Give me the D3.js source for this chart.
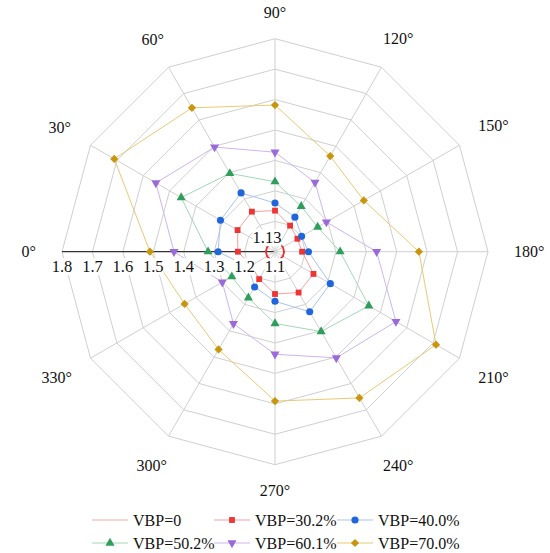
<!DOCTYPE html>
<html>
<head>
<meta charset="utf-8">
<script src="https://cdn.jsdelivr.net/npm/d3@7"></script>
<style>
  body { margin: 0; background: #fff; }
</style>
</head>
<body>
<div id="chart"></div>
<script>
// Directions (deg), 0 at left, going clockwise over the top
const angles = [0, 30, 60, 90, 120, 150, 180, 210, 240, 270, 300, 330];
const angleLabels = ["0°", "30°", "60°", "90°", "120°", "150°", "180°", "210°", "240°", "270°", "300°", "330°"];
const radialTicks = [1.8, 1.7, 1.6, 1.5, 1.4, 1.3, 1.2, 1.1];
const baseLabel = 1.13;

// Series values, one per direction
const vbp0   = [1.13, 1.13, 1.13, 1.13, 1.13, 1.13, 1.13, 1.13, 1.13, 1.13, 1.13, 1.13];
const vbp302 = [1.222, 1.242, 1.252, 1.235, 1.199, 1.185, 1.189, 1.246, 1.255, 1.239, 1.204, 1.19];
const vbp400 = [1.287, 1.307, 1.323, 1.26, 1.231, 1.201, 1.21, 1.31, 1.328, 1.263, 1.234, 1.20];
const vbp502 = [1.32, 1.456, 1.397, 1.33, 1.272, 1.262, 1.314, 1.456, 1.403, 1.336, 1.275, 1.264];
const vbp601 = [1.432, 1.552, 1.497, 1.427, 1.363, 1.295, 1.434, 1.559, 1.503, 1.437, 1.373, 1.30];
const vbp700 = [1.511, 1.71, 1.646, 1.582, 1.463, 1.437, 1.573, 1.711, 1.655, 1.591, 1.471, 1.443];

const seriesNames = ["VBP=0", "VBP=30.2%", "VBP=40.0%", "VBP=50.2%", "VBP=60.1%", "VBP=70.0%"];
const seriesValues = [vbp0, vbp302, vbp400, vbp502, vbp601, vbp700];

const markerColors = ["#f06060", "#ee3535", "#1f66dd", "#2f9e5c", "#9b6ada", "#c8960e"];
const lineColors = ["#f5a8a8", "#f5a0a0", "#a9c3f0", "#a3d8b5", "#cdb5ee", "#e9c974"];
const shapes = [null, "square", "circle", "triangle", "down", "diamond"];

const width = 550, height = 553;
const cx = 275, cy = 251.7;
const outerR = 213;
const FONT = "'Liberation Serif', 'Times New Roman', 'DejaVu Serif', serif";

const svg = d3.select("#chart").append("svg")
    .attr("width", width)
    .attr("height", height)
    .style("font-family", FONT);

const r = d3.scaleLinear().domain([1.1, 1.8]).range([0, outerR]);
const toRad = a => (a - 90) * Math.PI / 180; // d3 radial: 0 = up, clockwise

const g = svg.append("g").attr("transform", `translate(${cx},${cy})`);

// Grid rings (12-gons)
const ringLine = d3.lineRadial()
    .angle(d => toRad(d))
    .curve(d3.curveLinearClosed);

radialTicks.filter(t => t > 1.1).forEach(t => {
    g.append("path")
        .attr("d", ringLine.radius(r(t))(angles))
        .attr("fill", "none")
        .attr("stroke", "#cfcfcf")
        .attr("stroke-width", 1);
});

// Spokes
g.selectAll("line.spoke")
    .data(angles)
    .enter()
    .append("line")
    .attr("class", "spoke")
    .attr("x1", 0).attr("y1", 0)
    .attr("x2", d => d3.pointRadial(toRad(d), outerR)[0])
    .attr("y2", d => d3.pointRadial(toRad(d), outerR)[1])
    .attr("stroke", d => d === 0 ? "#333" : "#cfcfcf")
    .attr("stroke-width", d => d === 0 ? 1.2 : 1);

// Series lines
const seriesLine = d3.lineRadial()
    .angle((d, i) => toRad(angles[i]))
    .radius(d => r(d))
    .curve(d3.curveLinearClosed);

seriesValues.forEach((vals, s) => {
    g.append("path")
        .attr("d", seriesLine(vals))
        .attr("fill", "none")
        .attr("stroke", s === 0 ? "#ee2a2a" : lineColors[s])
        .attr("stroke-width", s === 0 ? 1.8 : 1);
});

// Markers
function symbolPath(shape) {
    if (shape === "square") return d3.symbol(d3.symbolSquare, 34)();
    if (shape === "circle") return d3.symbol(d3.symbolCircle, 40)();
    if (shape === "triangle") return d3.symbol(d3.symbolTriangle, 36)();
    if (shape === "down") return d3.symbol(d3.symbolTriangle, 36)();
    if (shape === "diamond") return d3.symbol(d3.symbolSquare, 34)();
    return null;
}
function symbolRot(shape) {
    if (shape === "down") return 180;
    if (shape === "diamond") return 45;
    return 0;
}

seriesValues.forEach((vals, s) => {
    if (!shapes[s]) return;
    g.selectAll(null)
        .data(vals)
        .enter()
        .append("path")
        .attr("d", symbolPath(shapes[s]))
        .attr("transform", (d, i) => {
            const p = d3.pointRadial(toRad(angles[i]), r(d));
            return `translate(${p[0]},${p[1]}) rotate(${symbolRot(shapes[s])})`;
        })
        .attr("fill", markerColors[s]);
});

// Radial tick labels (with white boxes, drawn on top)
function boxedText(x, y, txt) {
    const grp = g.append("g");
    const t = grp.append("text")
        .attr("x", x).attr("y", y)
        .attr("text-anchor", "middle")
        .attr("font-size", 16.5)
        .attr("fill", "#111")
        .text(txt);
    const bb = t.node().getBBox();
    grp.insert("rect", "text")
        .attr("x", bb.x)
        .attr("y", bb.y + 1)
        .attr("width", bb.width)
        .attr("height", bb.height - 2)
        .attr("fill", "#fff");
}

radialTicks.forEach(t => {
    boxedText(-r(t), 20.5, String(t));
});
boxedText(-8, -8.5, String(baseLabel));

// Direction labels
const lab = svg.append("g");
angles.forEach((a, i) => {
    const t = lab.append("text")
        .attr("font-size", 16)
        .attr("fill", "#111")
        .attr("text-anchor", "middle")
        .attr("dominant-baseline", "central")
        .text(angleLabels[i]);
    const w = t.node().getComputedTextLength();
    const rr = 239 + (w / 2) * Math.abs(Math.cos(a * Math.PI / 180));
    const p = d3.pointRadial(toRad(a), rr);
    t.attr("x", cx + p[0]).attr("y", cy + p[1]);
});

// Legend
const legendX = [92, 214, 337];
const legendY = [520, 543];
const legend = svg.append("g");
seriesNames.forEach((name, s) => {
    const col = s % 3, row = Math.floor(s / 3);
    const x0 = legendX[col], y0 = legendY[row];
    legend.append("line")
        .attr("x1", x0).attr("x2", x0 + 36)
        .attr("y1", y0).attr("y2", y0)
        .attr("stroke", lineColors[s])
        .attr("stroke-width", 1.2);
    if (shapes[s]) {
        legend.append("path")
            .attr("d", symbolPath(shapes[s]))
            .attr("transform", `translate(${x0 + 18},${y0}) rotate(${symbolRot(shapes[s])})`)
            .attr("fill", markerColors[s]);
    }
    legend.append("text")
        .attr("x", x0 + 41)
        .attr("y", y0)
        .attr("dominant-baseline", "central")
        .attr("font-size", 16)
        .attr("fill", "#111")
        .text(name);
});
</script>
</body>
</html>
